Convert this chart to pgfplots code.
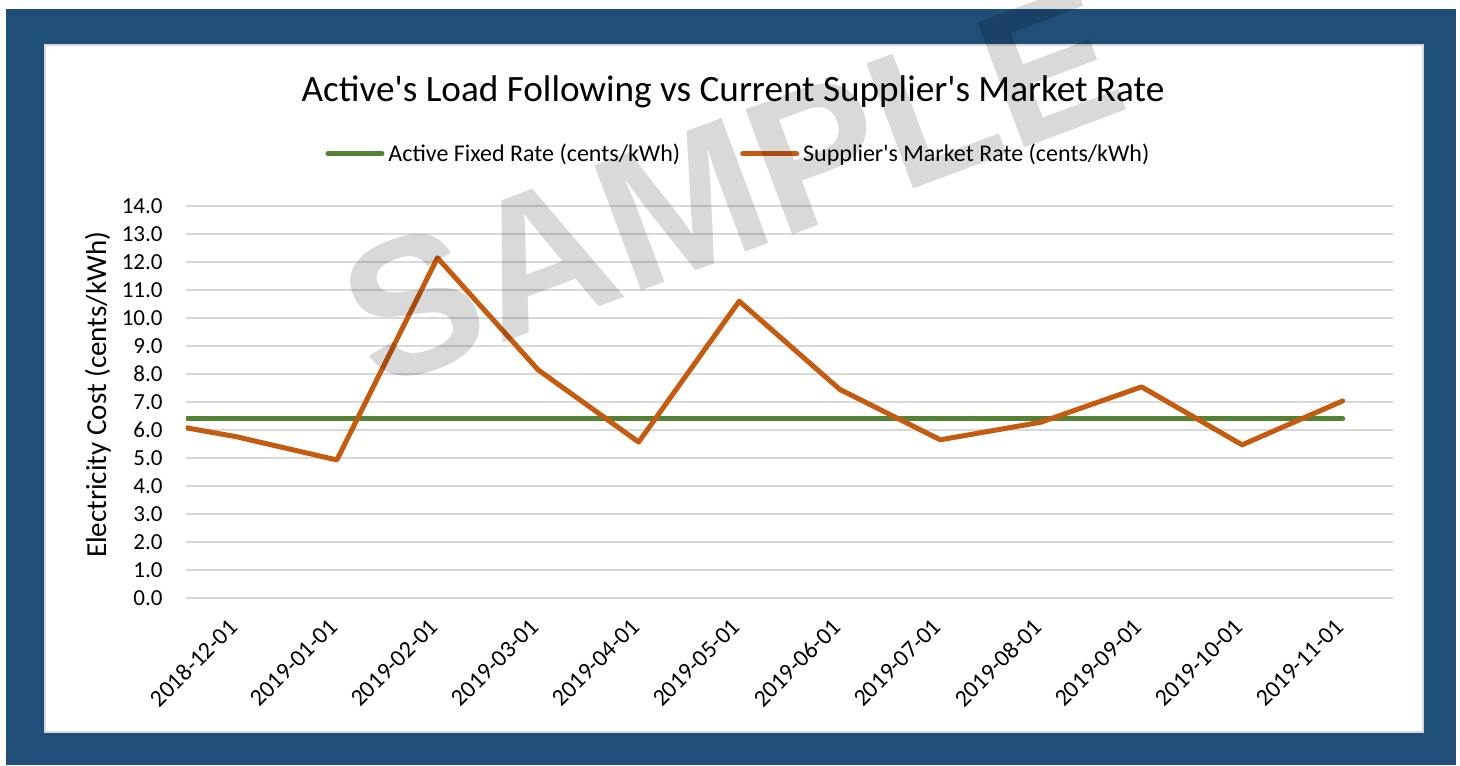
\documentclass[border=0pt]{standalone}
\usepackage{pgfplots}
\pgfplotsset{compat=1.18}
\usepackage{fontspec}
\setmainfont{Carlito}[Ligatures=TeXOff]
\newfontfamily\wmfont{Liberation Sans}
\definecolor{frameblue}{HTML}{1F4E79}
\definecolor{fixgreen}{HTML}{548235}
\definecolor{mktorange}{HTML}{C55A11}
\definecolor{gridgray}{HTML}{D9D9D9}
\begin{document}
\begin{tikzpicture}
\useasboundingbox (0pt,0pt) rectangle (730pt,-382.5pt);
\fill[frameblue] (3pt,-4.5pt) rectangle (728pt,-382.5pt);
\fill[white,draw=gridgray,line width=0.75pt] (22.5pt,-22.5pt) rectangle (711.5pt,-366pt);
\node[anchor=base,inner sep=0pt,font=\fontsize{18.6}{22}\selectfont] at (366.5pt,-51pt) {Active's Load Following vs Current Supplier's Market Rate};
\begin{axis}[
  at={(93pt,-299pt)}, anchor=south west,
  scale only axis, width=603.5pt, height=196pt,
  xmin=-0.5, xmax=11.5, ymin=0, ymax=14,
  axis line style={draw=none},
  tick style={draw=none},
  ytick={0,1,...,14},
  ymajorgrids, grid style={gridgray, line width=0.75pt},
  xtick={0,...,11},
  xticklabels={2018-12-01,2019-01-01,2019-02-01,2019-03-01,2019-04-01,2019-05-01,2019-06-01,2019-07-01,2019-08-01,2019-09-01,2019-10-01,2019-11-01},
  xticklabel style={xshift=-4.5pt, yshift=-9.5pt, rotate=45, anchor=north east, inner sep=0pt, font=\fontsize{12}{14}\selectfont},
  yticklabel style={font=\fontsize{11.5}{14}\selectfont, inner sep=0pt, xshift=-11.5pt},
  /pgf/number format/.cd, fixed, fixed zerofill, precision=1, assume math mode=true,
  /pgfplots/.cd,
  ylabel={Electricity Cost (cents/kWh)},
  ylabel style={at={(axis description cs:-0.073,0.518)}, anchor=center, font=\fontsize{14.5}{16}\selectfont},
  legend columns=2,
  legend style={draw=none, fill=none, at={(0.4585,1.133)}, anchor=center, font=\fontsize{12}{14}\selectfont,
    /tikz/every even column/.append style={column sep=28pt}, inner sep=0pt},
  legend image code/.code={\draw[#1, line cap=round] (0pt,0pt) -- (27pt,0pt);},
]
\addplot[fixgreen, line width=2.5pt, line cap=round] coordinates {
(-1,6.4) (0,6.4) (1,6.4) (2,6.4) (3,6.4) (4,6.4) (5,6.4) (6,6.4) (7,6.4) (8,6.4) (9,6.4) (10,6.4) (11,6.4)};
\addlegendentry{Active Fixed Rate (cents/kWh)}
\addplot[mktorange, line width=2.5pt, line cap=round, line join=round] coordinates {
(-1,6.40) (0,5.76) (1,4.93) (2,12.15) (3,8.15) (4,5.57) (5,10.6) (6,7.45) (7,5.65) (8,6.28) (9,7.54) (10,5.47) (11,7.04)};
\addlegendentry{Supplier's Market Rate (cents/kWh)}
\end{axis}
\node[rotate=20.5, fill opacity=0.15, text opacity=0.15, text=black, font=\wmfont\bfseries\fontsize{97}{97}\selectfont, inner sep=0pt] at (366pt,-93pt) {SAMPLE};
\end{tikzpicture}
\end{document}
